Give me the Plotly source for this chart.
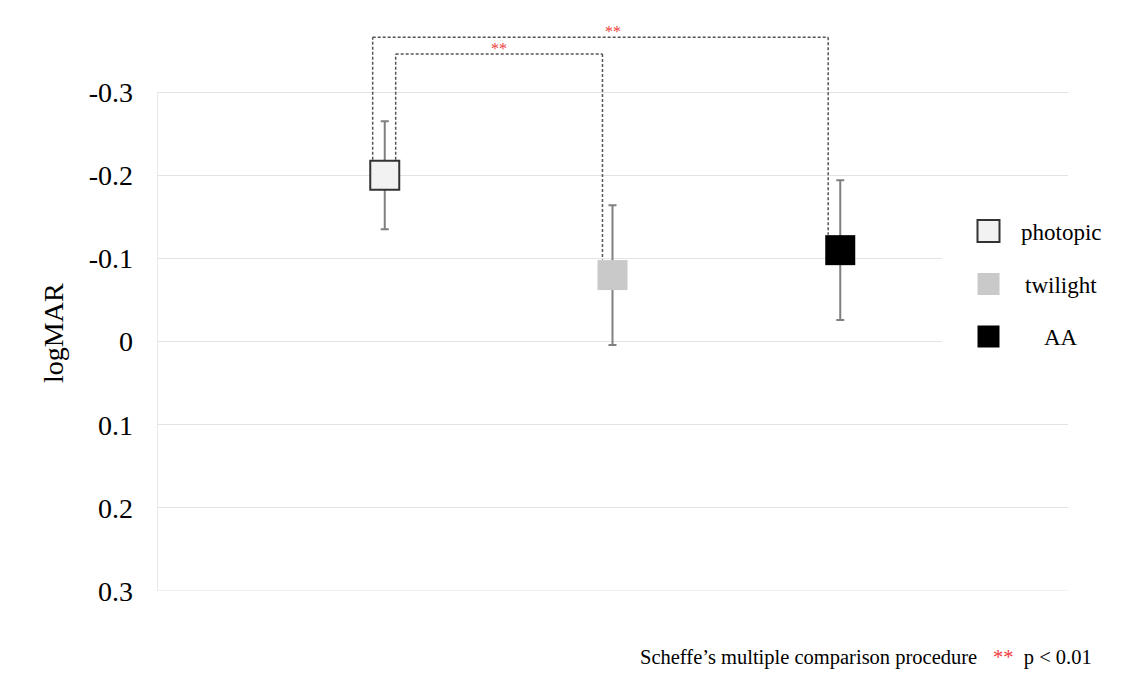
import plotly.graph_objects as go

# ---- data ----
conditions = ["photopic", "twilight", "AA"]
means = [-0.20, -0.08, -0.11]
sds = [0.065, 0.084, 0.084]
fills = ["#f2f2f2", "#c9c9c9", "#000000"]
borders = ["#333333", "#c9c9c9", "#000000"]

comparisons = [(0, 1), (0, 2)]
comp_labels = ["**", "**"]
comp_levels = [-0.346, -0.366]
comp_leg_offsets = [(0.048, -0.044), (-0.053, -0.053)]

ytickvals = [-0.3, -0.2, -0.1, 0, 0.1, 0.2, 0.3]
yticktext = ["-0.3", "-0.2", "-0.1", "0", "0.1", "0.2", "0.3"]

footnote = "Scheffe\u2019s multiple comparison procedure"
sig_note = "p &lt; 0.01"

# ---- layout geometry (page has an 8px body margin) ----
OFF = 8
W, H = 1129 - OFF, 681 - OFF
ML, MR, MT, MB = 157 - OFF, 61, 34 - OFF, 90
YR = [0.3, -0.37]
PW, PH = W - ML - MR, H - MT - MB
px_per_y = PH / (YR[0] - YR[1])
FONT = "Liberation Serif, Times New Roman, serif"
MSIZE = 30
GRID = "#e3e3e3"

xs = [i + 1 for i in range(len(conditions))]
XR = [0, len(conditions) + 1]

fig = go.Figure()
for i, c in enumerate(conditions):
    fig.add_trace(go.Scatter(
        x=[xs[i]], y=[means[i]], mode="markers", name=c, showlegend=False,
        marker=dict(symbol="square", size=MSIZE - (1 if i == 0 else 0), color=fills[i],
                    line=dict(color=borders[i], width=2 if i == 0 else 0)),
        error_y=dict(type="data", array=[sds[i]], symmetric=True,
                     color="#808080", thickness=2, width=4),
    ))

shapes = []
annotations = []

# left axis line and bottom grid line (span tick range)
shapes.append(dict(type="line", xref="x", yref="y", x0=XR[0], x1=XR[0], y0=ytickvals[0], y1=ytickvals[-1],
                   line=dict(color="#d6d6d6", width=1), layer="below"))
shapes.append(dict(type="line", xref="x", yref="y", x0=XR[0], x1=XR[1], y0=ytickvals[-1], y1=ytickvals[-1],
                   line=dict(color=GRID, width=1), layer="below"))

half_box = (MSIZE / 2 + 0.5) / px_per_y
for (a, b), lab, lev, (oa, ob) in zip(comparisons, comp_labels, comp_levels, comp_leg_offsets):
    xa, xb = xs[a] + oa, xs[b] + ob
    ya, yb = means[a] - half_box, means[b] - half_box
    for x0, y0, x1, y1 in [(xa, ya, xa, lev), (xa, lev, xb, lev), (xb, lev, xb, yb)]:
        shapes.append(dict(type="line", xref="x", yref="y", x0=x0, y0=y0, x1=x1, y1=y1,
                           line=dict(color="#555555", width=1.5, dash="3px,2px"), layer="above"))
    annotations.append(dict(x=(xs[a] + xs[b]) / 2, y=lev, xref="x", yref="y", text=lab,
                            showarrow=False, yanchor="bottom", yshift=-5,
                            font=dict(family=FONT, size=16, color="#ee3b3b")))

def px2paper_x(px):
    return (px - OFF - ML) / PW

def px2paper_y(py):
    return (H - MB - (py - OFF)) / PH

# manual legend
shapes.append(dict(type="rect", xref="paper", yref="paper",
                   x0=px2paper_x(942), x1=px2paper_x(1112), y0=px2paper_y(372), y1=px2paper_y(200),
                   fillcolor="white", line=dict(width=0), layer="above"))
leg_centers = [231, 284, 336.5]
for i, c in enumerate(conditions):
    cy = leg_centers[i]
    shapes.append(dict(type="rect", xref="paper", yref="paper",
                       x0=px2paper_x(977.5), x1=px2paper_x(999.5),
                       y0=px2paper_y(cy + 11), y1=px2paper_y(cy - 11),
                       fillcolor=fills[i],
                       line=dict(color=borders[i], width=2 if i == 0 else 0), layer="above"))
    annotations.append(dict(x=px2paper_x(1061), y=px2paper_y(cy + 1), xref="paper", yref="paper",
                            text=c, showarrow=False, xanchor="center", yanchor="middle",
                            font=dict(family=FONT, size=23, color="black")))

# y-axis title
annotations.append(dict(x=px2paper_x(53), y=px2paper_y(333), xref="paper", yref="paper",
                        text="logMAR", textangle=-90, showarrow=False,
                        xanchor="center", yanchor="middle",
                        font=dict(family=FONT, size=28, color="black")))

# footnote
annotations.append(dict(x=px2paper_x(638), y=px2paper_y(657), xref="paper", yref="paper",
                        text=footnote, showarrow=False, xanchor="left", yanchor="middle",
                        font=dict(family=FONT, size=20.5, color="black")))
annotations.append(dict(x=px2paper_x(1094), y=px2paper_y(657), xref="paper", yref="paper",
                        text="<span style='color:#ee3b3b'>" + comp_labels[0] + "</span>  " + sig_note,
                        showarrow=False, xanchor="right", yanchor="middle",
                        font=dict(family=FONT, size=20.5, color="black")))

fig.update_layout(
    width=W, height=H,
    margin=dict(l=ML, r=MR, t=MT, b=MB),
    plot_bgcolor="white", paper_bgcolor="white",
    shapes=shapes, annotations=annotations,
    xaxis=dict(range=XR, showgrid=False, zeroline=False,
               showticklabels=False, showline=False, ticks=""),
    yaxis=dict(range=YR, tickvals=ytickvals, ticktext=yticktext,
               showgrid=True, gridcolor=GRID, gridwidth=1, zeroline=False,
               showline=False, ticks="", ticklabelstandoff=23,
               tickfont=dict(family=FONT, size=28, color="black")),
)

fig.write_html("out.html")
